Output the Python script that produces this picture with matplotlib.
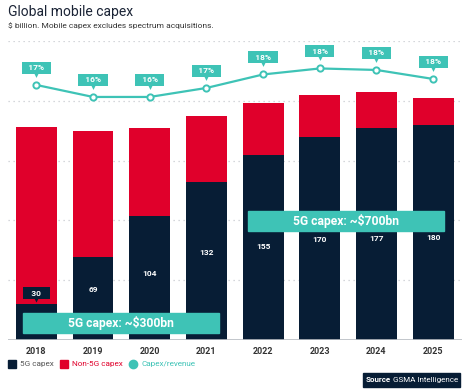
import matplotlib.pyplot as plt
from matplotlib.patches import Rectangle
from matplotlib.lines import Line2D
from matplotlib import transforms

plt.rcParams['font.family'] = ['Roboto', 'DejaVu Sans']

YEARS = ['2018', '2019', '2020', '2021', '2022', '2023', '2024', '2025']
CAPEX_5G = [30, 69, 104, 132, 155, 170, 177, 180]
CAPEX_NON5G = [148, 106, 73, 55, 43, 35, 30, 22]
CAPEX_REV = [17.2, 16.4, 16.4, 17.0, 17.9, 18.3, 18.2, 17.6]
CAPEX_REV_LABELS = ['17%', '16%', '16%', '17%', '18%', '18%', '18%', '18%']

NAVY = '#071d35'
RED = '#e0002b'
TEAL = '#3ec3b6'
GRID = '#c8cbd0'

W, H = 466, 391


def fx(px):
    return px / W


def fy(py):
    return 1 - py / H


fig = plt.figure(figsize=(W / 100, H / 100), dpi=100)
ax = fig.add_axes([fx(8), fy(340), (461.5 - 8) / W, 299 / H])

x = list(range(len(YEARS)))
ax.bar(x, CAPEX_5G, width=0.72, color=NAVY, zorder=2)
ax.bar(x, CAPEX_NON5G, width=0.72, bottom=CAPEX_5G, color=RED, zorder=2)

ax.set_xlim(-0.5, 7.5)
ax.set_ylim(0, 250)
for g in (50, 100, 150, 200, 250):
    ax.axhline(g, color=GRID, lw=0.9, ls=(0, (1, 3)), zorder=1)
ax.axhline(0, color='#b8bcc2', lw=1.2, zorder=3)
for s in ax.spines.values():
    s.set_visible(False)
ax.set_yticks([])
ax.set_xticks(x)
ax.set_xticklabels(YEARS, fontsize=6.5, fontweight='bold', color='#333333')
ax.tick_params(axis='x', length=0, pad=5)

# value labels inside the 5G bars
label_y = [None, 42, 56, 73, 78, 84, 85, 86]
for i, v in enumerate(CAPEX_5G):
    if label_y[i] is None:
        ax.annotate('   %d   ' % v, (i, v), xytext=(0, 7.7), textcoords='offset points',
                    ha='center', va='center', fontsize=6, fontweight='bold', color='white',
                    bbox=dict(boxstyle='square,pad=0.3', fc=NAVY, ec='none'), zorder=5)
        ax.plot([i], [v + 3.3], marker='v', color=NAVY, ms=3, mew=0, zorder=5)
    else:
        ax.text(i, label_y[i], str(v), ha='center', va='center', fontsize=6,
                fontweight='bold', color='white', zorder=5)

# callout boxes
ax.add_patch(Rectangle((-0.24, 6), 3.46, 16.6, color=TEAL, zorder=4, clip_on=False))
ax.text(1.49, 14.3, '5G capex: ~$300bn', ha='center', va='center', fontsize=8.7,
        fontweight='bold', color='white', zorder=5)
ax.add_patch(Rectangle((3.74, 91), 3.45, 17, color=TEAL, zorder=4, clip_on=False))
ax.text(5.47, 99.5, '5G capex: ~$700bn', ha='center', va='center', fontsize=8.7,
        fontweight='bold', color='white', zorder=5)

# capex / revenue line
ax2 = ax.twinx()
ax2.set_ylim(0.2, 20.13)
ax2.axis('off')
ax2.plot(x, CAPEX_REV, color=TEAL, lw=1.6, marker='o', ms=4.5, mfc='white',
         mec=TEAL, mew=1.4, zorder=5)
tri = transforms.offset_copy(ax2.transData, fig=fig, x=0, y=7.5, units='points')
for i, (v, lab) in enumerate(zip(CAPEX_REV, CAPEX_REV_LABELS)):
    ax2.annotate('  ' + lab + '  ', (i, v), xytext=(0, 12.5), textcoords='offset points',
                 ha='center', va='center', fontsize=6, fontweight='bold', color='white',
                 bbox=dict(boxstyle='square,pad=0.3', fc=TEAL, ec='none'))
    ax2.plot([i], [v], marker='v', color=TEAL, ms=3.5, transform=tri, mew=0)

# title
fig.text(fx(8), fy(12), 'Global mobile capex', fontsize=10, color='#1b2436',
         va='center', ha='left')
fig.text(fx(8), fy(25.5), '$ billion. Mobile capex excludes spectrum acquisitions.',
         fontsize=6.0, color='#333333', va='center', ha='left')

# legend
legend_items = [(8, '5G capex', NAVY, '#555555', 's'),
                (60, 'Non-5G capex', RED, RED, 's'),
                (129, 'Capex/revenue', TEAL, TEAL, 'o')]
for px, txt, c, tc, m in legend_items:
    if m == 's':
        fig.patches.append(Rectangle((fx(px), fy(368)), fx(8), 8 / H, color=c,
                                     transform=fig.transFigure, figure=fig))
    else:
        fig.add_artist(Line2D([fx(px + 4)], [fy(364)], marker='o', ms=6, color=c,
                              transform=fig.transFigure, lw=0))
    fig.text(fx(px + 12.5), fy(364), txt, fontsize=5.9, color=tc, va='center', ha='left')

# source box
fig.patches.append(Rectangle((fx(363), fy(387)), fx(97), 14 / H, color=NAVY,
                             transform=fig.transFigure, figure=fig))
fig.text(fx(366), fy(380), 'Source', fontsize=5.8, fontweight='bold', color='white',
         va='center', ha='left')
fig.text(fx(393), fy(380), 'GSMA Intelligence', fontsize=5.8, color='white',
         va='center', ha='left')

fig.savefig('out.png', dpi=100)
